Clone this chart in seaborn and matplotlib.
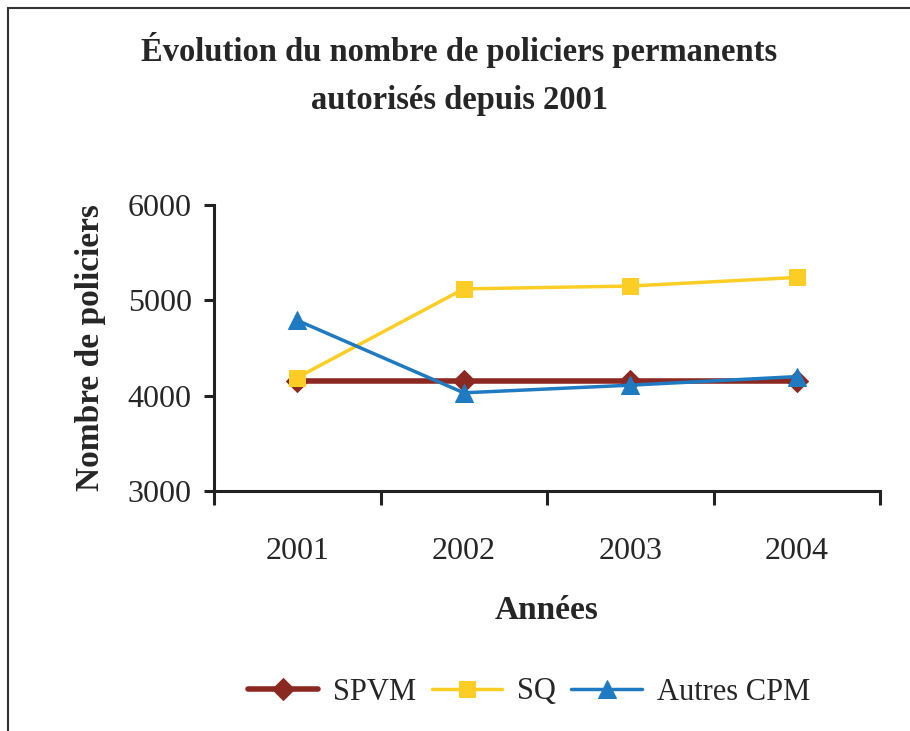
import numpy as np
import pandas as pd
from matplotlib import pyplot as plt
from matplotlib.patches import Rectangle
import seaborn as sb

# data
annees = ['2001', '2002', '2003', '2004']
spvm = [4150, 4150, 4150, 4150]
sq = [4190, 5120, 5150, 5240]
autres = [4790, 4030, 4110, 4200]

series = ['SPVM', 'SQ', 'Autres CPM']
couleurs = ['#8b2822', '#fcce25', '#1f7bc1']
marqueurs = ['D', 's', '^']

df = pd.DataFrame({'Année': annees * 3,
                   'Nombre': spvm + sq + autres,
                   'Série': [s for s in series for _ in annees]})

sb.set_style('white')
plt.rcParams['font.family'] = ['Liberation Serif', 'DejaVu Serif']

fig = plt.figure(figsize=(9.1, 7.31), dpi=100)
ax = fig.add_axes([214/910, 1-491/731, (880-214)/910, (491-205)/731])

tailles = [11, 11, 13]
epaisseurs = [4, 2.5, 2.5]
for s, c, m, t, e in zip(series, couleurs, marqueurs, tailles, epaisseurs):
    sub = df[df['Série'] == s]
    sb.lineplot(data=sub, x='Année', y='Nombre', ax=ax, color=c, marker=m,
                markersize=t, markeredgecolor=c, linewidth=e, label=s, sort=False)

ax.set_ylim(3000, 6000)
ax.set_yticks([3000, 4000, 5000, 6000])
ax.set_xlim(-0.5, 3.5)
ax.set_xticks(range(4))
ax.set_xticklabels(annees)
ax.set_xticks(np.arange(-0.5, 4, 1), minor=True)
ax.tick_params(axis='x', which='major', length=0, pad=33, labelsize=23)
ax.tick_params(axis='x', which='minor', length=10, width=2.2, direction='out', color='#222222', bottom=True)
ax.tick_params(axis='y', length=7, width=2.2, direction='out', color='#222222', labelsize=23, pad=9, left=True)

for sp in ['top', 'right']:
    ax.spines[sp].set_visible(False)
for sp in ['left', 'bottom']:
    ax.spines[sp].set_linewidth(2.2)
    ax.spines[sp].set_color('#222222')

ax.set_xlabel('Années', fontsize=24, fontweight='bold', labelpad=21)
ax.set_ylabel('Nombre de policiers', fontsize=24, fontweight='bold', labelpad=16)
ax.get_legend().remove()

fig.text(0.505, 1-32/731, 'Évolution du nombre de policiers permanents\nautorisés depuis 2001',
         ha='center', va='top', fontsize=23.5, fontweight='bold', linespacing=1.72)

handles, labels = ax.get_legend_handles_labels()
fig.legend(handles, labels, loc='center', bbox_to_anchor=(529/910, 1-692/731), ncol=3,
           frameon=False, fontsize=22, handlelength=2.3, columnspacing=0.5, handletextpad=0.5)

# cadre autour du graphique
fig.patches.append(Rectangle((8/910, -0.05), 1.2, 1-8/731+0.05, transform=fig.transFigure,
                             fill=False, edgecolor='#333333', linewidth=1.5))

plt.savefig('out.png', dpi=100)
